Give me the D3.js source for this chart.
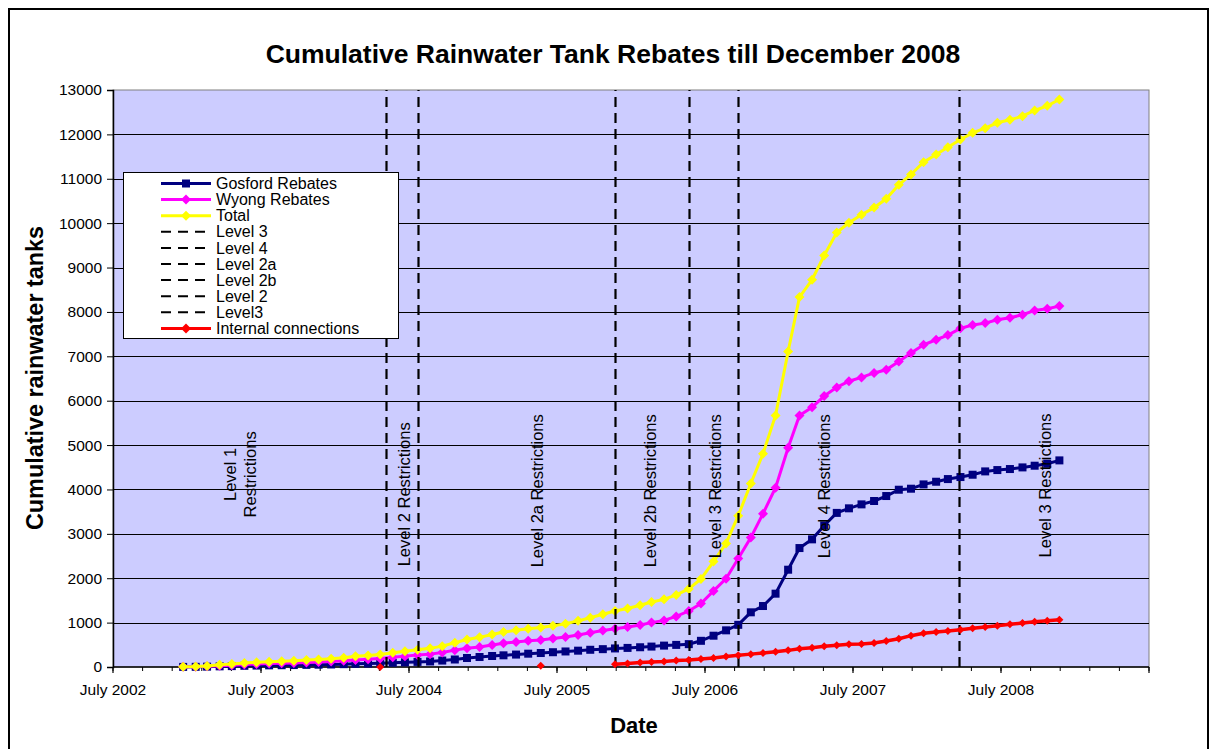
<!DOCTYPE html>
<html>
<head>
<meta charset="utf-8">
<script src="https://cdn.jsdelivr.net/npm/d3@7"></script>
<style>
  body { margin: 0; background: #fff; }
  svg { display: block; }
  text { font-family: Arial, "Liberation Sans", sans-serif; fill: #000; }
</style>
</head>
<body>
<svg id="chart" width="1216" height="749"></svg>
<script>
// Monthly records, January 2003 to December 2008
const months = d3.utcMonth.range(new Date(Date.UTC(2003, 0, 1)), new Date(Date.UTC(2009, 0, 1)));

const gosford = [
  2, 4, 8, 15, 20, 27, 32, 37, 40, 44, 48, 52,
  57, 64, 72, 78, 85, 95, 105, 115, 125, 145, 169, 203,
  225, 248, 263, 280, 300, 315, 333, 350, 368, 388, 402, 418,
  430, 445, 460, 482, 498, 515, 590, 705, 826, 950, 1232, 1374,
  1652, 2192, 2680, 2876, 3190, 3472, 3575, 3664, 3740, 3852, 3994, 4017,
  4114, 4174, 4234, 4280, 4332, 4407, 4437, 4460, 4497, 4535, 4580, 4655
];

const wyong = [
  3, 6, 15, 30, 42, 58, 68, 78, 85, 92, 102, 112,
  122, 140, 160, 175, 190, 220, 245, 270, 290, 325, 380, 420,
  450, 495, 535, 565, 590, 610, 640, 675, 720, 770, 820, 860,
  900, 945, 1000, 1050, 1140, 1261, 1430, 1715, 1990, 2445, 2915, 3454,
  4039, 4940, 5669, 5850, 6105, 6300, 6438, 6525, 6625, 6697, 6885, 7073,
  7260, 7373, 7478, 7630, 7705, 7748, 7823, 7868, 7936, 8034, 8071, 8131
];

const total = [
  5, 10, 25, 50, 65, 90, 105, 120, 130, 140, 155, 170,
  185, 210, 240, 260, 280, 320, 355, 390, 420, 470, 545, 620,
  668, 732, 788, 826, 860, 890, 927, 976, 1040, 1111, 1190, 1261,
  1318, 1392, 1464, 1524, 1625, 1760, 1983, 2376, 2785, 3410, 4135, 4805,
  5669, 7110, 8334, 8724, 9272, 9790, 10008, 10190, 10350, 10549, 10864, 11097,
  11375, 11547, 11712, 11885, 12035, 12140, 12261, 12328, 12410, 12538, 12643, 12786
];

// null = no record for that month
const internalConnections = [
  null, null, null, null, null, null, null, null, null, null, null, null,
  null, null, null, null, 0, null, null, null, null, null, null, null,
  null, null, null, null, null, 30, null, null, null, null, null, 60,
  80, 100, 115, 125, 145, 158, 180, 205, 235, 265, 290, 315,
  345, 375, 413, 435, 465, 488, 510, 518, 541, 586, 638, 706,
  758, 788, 811, 841, 871, 901, 931, 961, 991, 1021, 1044, 1066
];

// Dates on which each restriction level came into force
const restrictionNames = ["Level 3", "Level 4", "Level 2a", "Level 2b", "Level 2", "Level3"];
const restrictionDates = ["2006-06-01", "2006-10-01", "2004-08-01", "2005-12-01", "2004-05-16", "2008-03-28"];

// Phase captions, anchored in date / tank-count units
const phaseText = [["Level 1", "Restrictions"], ["Level 2 Restrictions"], ["Level 2a Restrictions"],
                   ["Level 2b Restrictions"], ["Level 3 Restrictions"], ["Level 4 Restrictions"], ["Level 3 Restrictions"]];
const phaseDates = ["2003-05-22", "2004-06-30", "2005-05-23", "2006-02-25", "2006-08-04", "2007-05-02", "2008-10-28"];
const phaseValues = [4340, 3890, 3970, 3970, 4070, 4070, 4090];

const yTickValues = [0, 1000, 2000, 3000, 4000, 5000, 6000, 7000, 8000, 9000, 10000, 11000, 12000, 13000];

const DAY = 864e5;
const axisStart = Date.UTC(2002, 6, 12);
const majorStepDays = 365;
const minorStepDays = 73;
const axisEnd = axisStart + 7 * majorStepDays * DAY;

const svg = d3.select("#chart");
const W = 1216, H = 749;
const plot = { left: 113, right: 1149, top: 90, bottom: 667 };

const x = d3.scaleUtc().domain([new Date(axisStart), new Date(axisEnd)]).range([plot.left, plot.right]);
const y = d3.scaleLinear().domain([0, 13000]).range([plot.bottom, plot.top]);
const parse = d3.utcParse("%Y-%m-%d");

// outer chart frame
svg.append("rect").attr("x", 0).attr("y", 0).attr("width", W).attr("height", H).attr("fill", "#fff");
svg.append("rect").attr("x", 9).attr("y", 9).attr("width", 1199).attr("height", 760)
  .attr("fill", "none").attr("stroke", "#000").attr("stroke-width", 2);

// title
svg.append("text").attr("x", 613).attr("y", 63).attr("text-anchor", "middle")
  .attr("font-size", 26.5).attr("font-weight", "bold")
  .text("Cumulative Rainwater Tank Rebates till December 2008");

// plot area
svg.append("rect").attr("x", plot.left).attr("y", plot.top)
  .attr("width", plot.right - plot.left).attr("height", plot.bottom - plot.top)
  .attr("fill", "#CCCCFF").attr("stroke", "#808080").attr("stroke-width", 1);

// horizontal gridlines
svg.append("g").selectAll("line").data(yTickValues.filter(v => v > 0 && v < 13000)).join("line")
  .attr("x1", plot.left).attr("x2", plot.right)
  .attr("y1", d => Math.round(y(d)) + 0.5).attr("y2", d => Math.round(y(d)) + 0.5)
  .attr("stroke", "#000").attr("stroke-width", 1);

// y axis
const yAxis = svg.append("g").attr("transform", `translate(${plot.left},0)`)
  .call(d3.axisLeft(y).tickValues(yTickValues).tickSize(6).tickPadding(5).tickFormat(d3.format("d")));
yAxis.select(".domain").attr("stroke", "#000").attr("stroke-width", 1.5);
yAxis.selectAll(".tick line").attr("stroke", "#000");
yAxis.selectAll(".tick text").attr("font-size", 15.5).attr("font-family", "Arial, 'Liberation Sans', sans-serif").attr("fill", "#000");

// x axis: major every 365 days, minor every 73 days
const majorTicks = d3.range(0, 8).map(k => new Date(axisStart + k * majorStepDays * DAY));
const minorTicks = d3.range(0, 36).map(k => new Date(axisStart + k * minorStepDays * DAY));
const xg = svg.append("g").attr("transform", `translate(0,${plot.bottom})`);
xg.selectAll("line.minor").data(minorTicks).join("line").attr("class", "minor")
  .attr("x1", d => x(d)).attr("x2", d => x(d)).attr("y1", 0).attr("y2", 4)
  .attr("stroke", "#000").attr("stroke-width", 1);
xg.selectAll("line.major").data(majorTicks).join("line").attr("class", "major")
  .attr("x1", d => x(d)).attr("x2", d => x(d)).attr("y1", 0).attr("y2", 6)
  .attr("stroke", "#000").attr("stroke-width", 1.2);
xg.append("line").attr("x1", plot.left).attr("x2", plot.right).attr("y1", 0).attr("y2", 0)
  .attr("stroke", "#000").attr("stroke-width", 1.5);
const fmt = d3.utcFormat("%B %Y");
xg.selectAll("text").data(majorTicks.slice(0, 7)).join("text")
  .attr("x", d => x(d)).attr("y", 28).attr("text-anchor", "middle")
  .attr("font-size", 15.5).text(d => fmt(d));

// axis titles
svg.append("text").attr("transform", `translate(43,378) rotate(-90)`)
  .attr("text-anchor", "middle").attr("font-size", 23.4).attr("font-weight", "bold")
  .text("Cumulative rainwater tanks");
svg.append("text").attr("x", 634).attr("y", 733).attr("text-anchor", "middle")
  .attr("font-size", 22).attr("font-weight", "bold").text("Date");

// data series
function pts(values) {
  return months.map((m, i) => ({ d: m, v: values[i] }));
}
const line = d3.line().defined(p => p.v != null).x(p => x(p.d)).y(p => y(p.v));

function diamond(g, data, r, color) {
  g.selectAll("path.mk").data(data.filter(p => p.v != null)).join("path").attr("class", "mk")
    .attr("d", p => {
      const cx = x(p.d), cy = y(p.v);
      return `M${cx},${cy - r}L${cx + r},${cy}L${cx},${cy + r}L${cx - r},${cy}Z`;
    })
    .attr("fill", color);
}
function square(g, data, s, color) {
  g.selectAll("rect.mk").data(data.filter(p => p.v != null)).join("rect").attr("class", "mk")
    .attr("x", p => x(p.d) - s / 2).attr("y", p => y(p.v) - s / 2)
    .attr("width", s).attr("height", s).attr("fill", color);
}

const series = svg.append("g");
const gG = series.append("g");
gG.append("path").attr("d", line(pts(gosford))).attr("fill", "none").attr("stroke", "#000080").attr("stroke-width", 3);
square(gG, pts(gosford), 8, "#000080");

const gW = series.append("g");
gW.append("path").attr("d", line(pts(wyong))).attr("fill", "none").attr("stroke", "#FF00FF").attr("stroke-width", 3);
diamond(gW, pts(wyong), 5, "#FF00FF");

const gT = series.append("g");
gT.append("path").attr("d", line(pts(total))).attr("fill", "none").attr("stroke", "#FFFF00").attr("stroke-width", 3);
diamond(gT, pts(total), 5, "#FFFF00");

// restriction start lines
svg.append("g").selectAll("line").data(restrictionDates).join("line")
  .attr("x1", d => Math.round(x(parse(d))) + 0.5).attr("x2", d => Math.round(x(parse(d))) + 0.5)
  .attr("y1", y(0)).attr("y2", y(13000))
  .attr("stroke", "#000").attr("stroke-width", 2.2).attr("stroke-dasharray", "10,6");

const gR = svg.append("g");
gR.append("path").attr("d", line(pts(internalConnections))).attr("fill", "none").attr("stroke", "#FF0000").attr("stroke-width", 3.5);
diamond(gR, pts(internalConnections), 4, "#FF0000");

// phase captions
const cap = svg.append("g");
phaseText.forEach((lines, i) => {
  const cx = x(parse(phaseDates[i])), cy = y(phaseValues[i]);
  const t = cap.append("text").attr("transform", `translate(${cx},${cy}) rotate(-90)`)
    .attr("text-anchor", "middle").attr("font-size", 16.5);
  lines.forEach((s, j) => {
    t.append("tspan").attr("x", 0)
      .attr("y", (j - (lines.length - 1) / 2) * 20).attr("dy", "0.35em").text(s);
  });
});

// legend
const legendItems = [
  { name: "Gosford Rebates", color: "#000080", marker: "square" },
  { name: "Wyong Rebates", color: "#FF00FF", marker: "diamond" },
  { name: "Total", color: "#FFFF00", marker: "diamond" },
  ...restrictionNames.map(n => ({ name: n, color: "#000", dash: true })),
  { name: "Internal connections", color: "#FF0000", marker: "diamond" }
];
const lg = svg.append("g");
lg.append("rect").attr("x", 123.5).attr("y", 172.5).attr("width", 275).attr("height", 166)
  .attr("fill", "#fff").attr("stroke", "#000").attr("stroke-width", 1);
legendItems.forEach((it, i) => {
  const cy = 183.5 + i * 16.1;
  const row = lg.append("g");
  row.append("line").attr("x1", 161).attr("x2", 211).attr("y1", cy).attr("y2", cy)
    .attr("stroke", it.color).attr("stroke-width", it.dash ? 2 : 3)
    .attr("stroke-dasharray", it.dash ? "10,7" : null);
  if (it.marker === "square") {
    row.append("rect").attr("x", 182).attr("y", cy - 4).attr("width", 8).attr("height", 8).attr("fill", it.color);
  } else if (it.marker === "diamond") {
    row.append("path").attr("d", `M186,${cy - 5}L191,${cy}L186,${cy + 5}L181,${cy}Z`).attr("fill", it.color);
  }
  row.append("text").attr("x", 216).attr("y", cy).attr("dy", "0.35em").attr("font-size", 16).text(it.name);
});
</script>
</body>
</html>
